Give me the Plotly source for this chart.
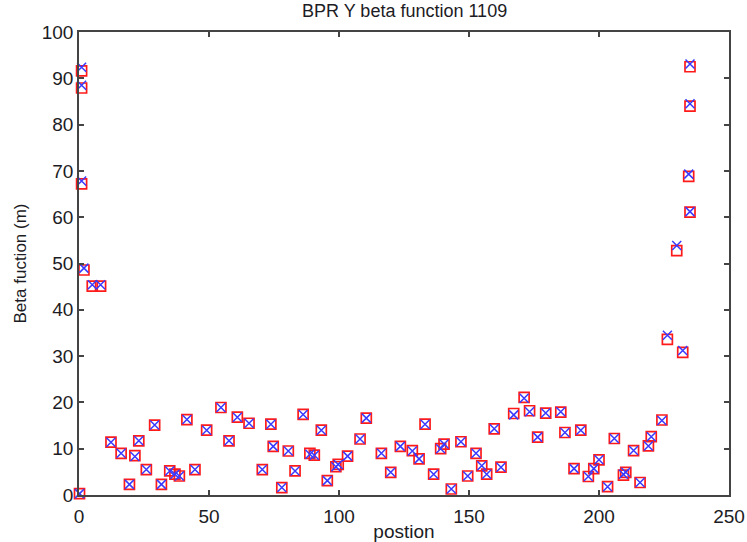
import plotly.graph_objects as go

# ---- data ----
position = [
    1.0, 1.0, 1.0, 1.9, 5.1, 8.3,
    0.2, 12.3, 16.2, 19.4, 21.5, 23.0, 25.9, 29.1, 31.7, 34.9, 36.9, 38.6,
    41.5, 44.6, 49.1, 54.6, 57.7, 60.9, 65.4, 70.5, 73.8, 74.7, 78.0, 80.5,
    83.1, 86.2, 88.8, 90.5, 93.2, 95.5, 98.8, 99.7, 103.3, 108.1, 110.5,
    116.3, 119.9, 123.6, 128.2, 130.8, 133.1, 136.4, 139.1, 140.4, 143.2,
    146.9, 149.5, 152.7, 154.9, 156.8, 159.7, 162.3, 167.2, 171.2, 173.3,
    176.4, 179.5, 185.3, 186.9, 190.4, 193.0, 195.9, 198.0, 200.0, 203.3,
    205.9, 209.4, 210.3, 213.3, 215.8, 219.0, 220.1, 224.2,
    226.3, 229.9, 232.2, 234.5, 235.0, 235.0, 235.0,
]

beta_meas = [
    91.6, 87.9, 67.2, 48.6, 45.1, 45.1,
    0.3, 11.4, 9.0, 2.3, 8.5, 11.7, 5.5, 15.1, 2.3, 5.2, 4.5, 4.1,
    16.3, 5.5, 14.0, 18.9, 11.7, 16.8, 15.5, 5.5, 15.3, 10.5, 1.6, 9.5,
    5.2, 17.4, 9.0, 8.6, 14.0, 3.1, 6.1, 6.6, 8.4, 12.1, 16.6,
    9.0, 4.9, 10.5, 9.6, 7.8, 15.3, 4.5, 10.0, 11.0, 1.3,
    11.5, 4.1, 9.0, 6.3, 4.5, 14.3, 6.0, 17.6, 21.1, 18.2,
    12.5, 17.7, 17.9, 13.5, 5.7, 14.0, 4.0, 5.7, 7.6, 1.8,
    12.2, 4.3, 4.9, 9.6, 2.7, 10.6, 12.6, 16.2,
    33.6, 52.8, 30.8, 68.8, 61.1, 84.0, 92.5,
]

beta_model = [
    92.4, 88.5, 67.8, 49.0, 45.4, 45.4,
    0.3, 11.4, 9.0, 2.3, 8.3, 11.7, 5.5, 15.1, 2.3, 5.2, 4.5, 4.1,
    16.3, 5.5, 14.0, 18.9, 11.7, 16.8, 15.5, 5.5, 15.3, 10.5, 1.6, 9.5,
    5.2, 17.4, 8.8, 8.6, 14.0, 3.1, 6.1, 6.6, 8.4, 12.1, 16.6,
    9.0, 4.9, 10.5, 9.5, 7.8, 15.3, 4.5, 10.0, 11.0, 1.3,
    11.5, 4.1, 9.0, 6.3, 4.5, 14.3, 6.0, 17.3, 20.9, 18.0,
    12.5, 17.7, 18.0, 13.5, 5.7, 14.0, 4.0, 5.7, 7.6, 1.8,
    12.2, 4.5, 4.9, 9.6, 2.7, 10.6, 12.6, 16.1,
    34.5, 53.9, 31.2, 69.3, 61.2, 84.5, 93.1,
]

title_text = "BPR Y beta function 1109"
x_label = "postion"
y_label = "Beta fuction (m)"
x_ticks = [0, 50, 100, 150, 200, 250]
y_ticks = [0, 10, 20, 30, 40, 50, 60, 70, 80, 90, 100]

FONT = "Liberation Sans, Arial, sans-serif"
TXT = "#1c1c24"
AX = "#444444"

fig = go.Figure()
fig.add_trace(go.Scatter(
    x=position, y=beta_meas, mode="markers", name="measured",
    marker=dict(symbol="square-open", size=10, color="#ff1a1a",
                line=dict(width=1.7, color="#ff1a1a")),
    cliponaxis=False,
))
fig.add_trace(go.Scatter(
    x=position, y=beta_model, mode="markers", name="model",
    marker=dict(symbol="x-thin-open", size=9, color="#3a3aff",
                line=dict(width=1.5, color="#3a3aff")),
    cliponaxis=False,
))

axis_common = dict(
    showgrid=False, zeroline=False, showline=True, linecolor=AX, linewidth=1.5,
    mirror="ticks", ticks="inside", ticklen=5, tickwidth=1.5, tickcolor=AX,
    tickfont=dict(family=FONT, size=19, color=TXT), automargin=False,
)

fig.update_layout(
    width=747, height=542,
    margin=dict(l=79, r=18, t=32, b=47),
    paper_bgcolor="white", plot_bgcolor="white",
    showlegend=False,
    xaxis=dict(range=[0, 250], tickvals=x_ticks, ticklabelstandoff=3, **axis_common,
               title=dict(text=x_label, font=dict(family=FONT, size=19, color=TXT),
                          standoff=8)),
    yaxis=dict(range=[0, 100], tickvals=y_ticks, **axis_common,
               title=dict(text=y_label, font=dict(family=FONT, size=17, color=TXT),
                          standoff=11)),
    annotations=[dict(
        text=title_text, xref="paper", yref="paper", x=0.5, y=(495 - 11) / 463,
        xanchor="center", yanchor="middle", showarrow=False,
        font=dict(family=FONT, size=18, color=TXT),
    )],
)

fig.write_html("out.html")
